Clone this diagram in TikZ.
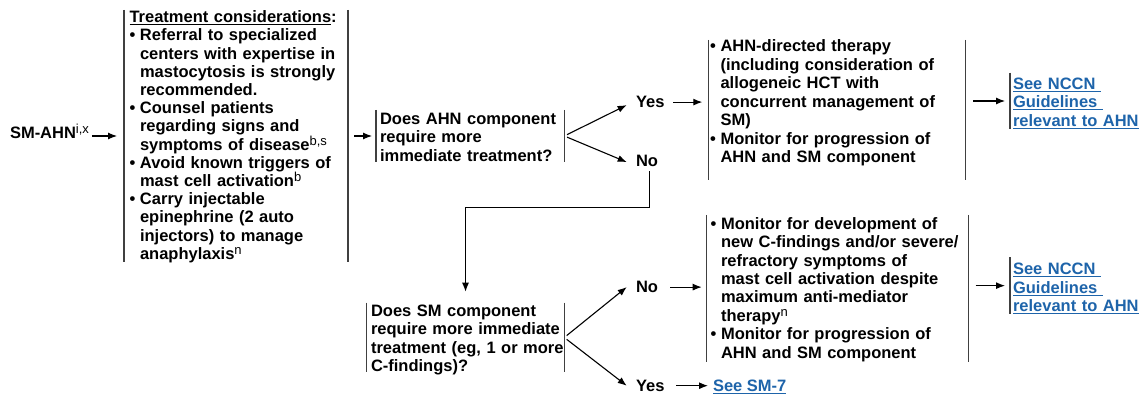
\documentclass[tikz,border=0pt]{standalone}
\usepackage{fontspec}
\setmainfont{Liberation Sans}
\usetikzlibrary{arrows.meta,calc}
\definecolor{linkblue}{RGB}{30,100,170}
\newcommand\sups[1]{\raisebox{5pt}{\fontsize{13}{13}\selectfont\mdseries #1}}
\newcommand\bu{\makebox[10.5pt][l]{\textbullet}}
\newcommand\ci{\hspace*{10.5pt}}
\begin{document}
\begin{tikzpicture}[x=1pt,y=-1pt,
  txt/.style={inner sep=0pt, outer sep=0pt, anchor=north west, align=left, text width=300pt, font=\fontsize{16.5}{18.4}\selectfont\bfseries},
  lbl/.style={inner sep=0pt, outer sep=0pt, anchor=base west, font=\fontsize{16.5}{18.3}\selectfont\bfseries},
  frame/.style={inner sep=0pt, outer sep=0pt, anchor=north west, draw=none},
  side/.style={draw=black!75, line width=1.3pt},
  arr/.style={draw=black, line width=1.1pt, -{Latex[length=9pt,width=7pt]}}
]
\useasboundingbox (0,0) rectangle (1142,395);

% frames
\node[frame, minimum width=224pt, minimum height=252pt] (b1) at (124,10) {};
\node[frame, minimum width=188.3pt, minimum height=52.4pt] (b2) at (376,109.8) {};
\node[frame, minimum width=257.4pt, minimum height=140pt] (b3) at (708.3,40) {};
\node[frame, minimum width=125pt, minimum height=56.6pt] (l1) at (1010,72.7) {};
\node[frame, minimum width=197.6pt, minimum height=69.6pt] (b4) at (366.7,302.7) {};
\node[frame, minimum width=261.6pt, minimum height=146.7pt] (b5) at (706.7,215) {};
\node[frame, minimum width=125pt, minimum height=56.7pt] (l2) at (1010,257.3) {};

\foreach \b in {b1,b2,b3,b4,b5}{
  \draw[side] (\b.north west) -- (\b.south west) (\b.north east) -- (\b.south east);
}
\draw[side] (l1.north west) -- (l1.south west);
\draw[side] (l2.north west) -- (l2.south west);

% texts
\node[txt, font=\fontsize{16.5}{18.2}\selectfont\bfseries] (t1) at (129.5,10) {\strut\underline{Treatment considerations}:\\
\bu Referral to specialized\\
\ci centers with expertise in\\
\ci mastocytosis is strongly\\
\ci recommended.\\
\bu Counsel patients\\
\ci regarding signs and\\
\ci symptoms of disease\sups{b,s}\\
\bu Avoid known triggers of\\
\ci mast cell activation\sups{b}\\
\bu Carry injectable\\
\ci epinephrine (2 auto\\
\ci injectors) to manage\\
\ci anaphylaxis\sups{n}};

\node[txt, font=\fontsize{16.5}{18.4}\selectfont\bfseries] (t2) at (380,111.6) {\strut Does AHN component\\require more\\immediate treatment?};

\node[txt, font=\fontsize{16.5}{18.5}\selectfont\bfseries] (t3) at (710,38.8) {\strut\bu AHN-directed therapy\\
\ci (including consideration of\\
\ci allogeneic HCT with\\
\ci concurrent management of\\
\ci SM)\\
\bu Monitor for progression of\\
\ci AHN and SM component};

\node[txt, text=linkblue] (tl1) at (1013,76.5) {\strut\underline{See NCCN\ }\\\underline{Guidelines\ }\\\underline{relevant to AHN}};

\node[txt] (t4) at (371,303.5) {\strut Does SM component\\require more immediate\\treatment (eg, 1 or more\\C-findings)?};

\node[txt] (t5) at (710.5,216.4) {\strut\bu Monitor for development of\\
\ci new C-findings and/or severe/\\
\ci refractory symptoms of\\
\ci mast cell activation despite\\
\ci maximum anti-mediator\\
\ci therapy\sups{n}\\
\bu Monitor for progression of\\
\ci AHN and SM component};

\node[txt, text=linkblue] (tl2) at (1013,262) {\strut\underline{See NCCN\ }\\\underline{Guidelines\ }\\\underline{relevant to AHN}};

% labels
\node[lbl] (s) at (10,138.5) {SM-AHN\sups{i,x}};
\node[lbl] (y1) at (636,107.7) {Yes};
\node[lbl] (n1) at (636,166.7) {No};
\node[lbl] (n2) at (636,292.7) {No};
\node[lbl] (y2) at (636,391.3) {Yes};
\node[lbl, text=linkblue] (sm7) at (713,391.3) {\underline{See SM-7}};

% connectors
\draw[arr, shorten <=3pt, shorten >=7pt] (s.east |- b1.west) -- (b1.west);
\draw[arr, shorten <=6pt, shorten >=4pt] (b1.east |- b2.west) -- (b2.west);
\draw[arr, shorten <=3pt] (b2.east) -- ([shift={(-9.3pt,-3pt)}]y1.west);
\draw[arr, shorten <=3pt] (b2.east) -- ([shift={(-9.3pt,-1pt)}]n1.west);
\draw[arr, shorten <=9pt, shorten >=6pt] (y1.east) -- (y1.east -| b3.west);
\draw[arr, shorten <=7.3pt, shorten >=5pt] (b3.east |- l1.west) -- (l1.west);
\coordinate (j) at (465.5,207.7);
\draw[arr, shorten <=4.5pt, shorten >=11pt] ([xshift=2.5pt]n1.south) |- (j) -- (b4.north);
\draw[arr, shorten <=3pt] (b4.east) -- ([shift={(-9.3pt,0pt)}]n2.west);
\draw[arr, shorten <=3pt] (b4.east) -- ([shift={(-9.3pt,0pt)}]y2.west);
\draw[arr, shorten <=12pt, shorten >=5pt] (n2.east) -- (n2.east -| b5.west);
\draw[arr, shorten <=7.3pt, shorten >=5pt] (b5.east |- l2.west) -- (l2.west);
\draw[arr, shorten <=12pt, shorten >=5pt] (y2.east) -- (y2.east -| sm7.west);
\end{tikzpicture}
\end{document}
